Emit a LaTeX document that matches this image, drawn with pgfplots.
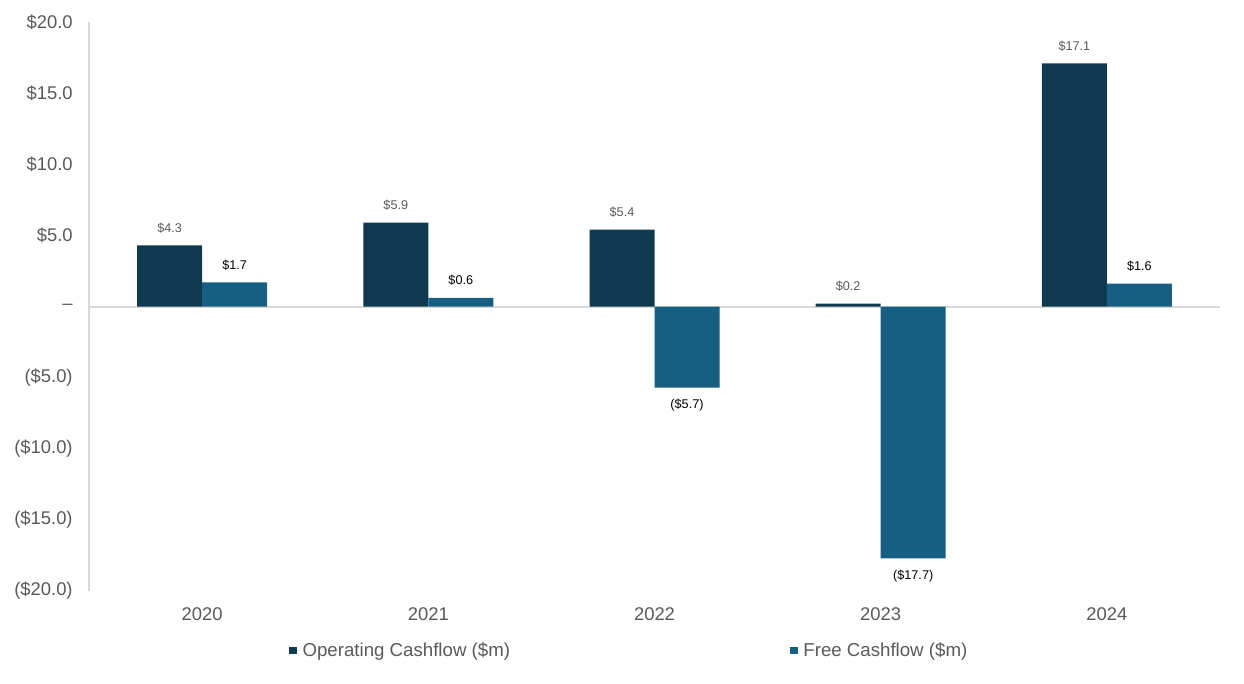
\documentclass[border=0pt]{standalone}
\usepackage{fontspec}
\setmainfont{Liberation Sans}
\usepackage{pgfplots}
\pgfplotsset{compat=1.18}

\definecolor{opcf}{HTML}{0E394F}
\definecolor{fcf}{HTML}{165E82}
\definecolor{axgray}{HTML}{D9D9D9}
\definecolor{txtgray}{HTML}{595959}

\begin{document}
\begin{tikzpicture}
\useasboundingbox (0,0) rectangle (933pt,512.25pt);
\begin{axis}[
    at={(66.75pt,69pt)}, anchor=south west,
    scale only axis,
    width=848.25pt, height=426.75pt,
    ybar, bar width=48.75pt,
    xmin=-0.5, xmax=4.5,
    ymin=-20, ymax=20,
    xtick={0,1,2,3,4},
    xticklabels={2020,2021,2022,2023,2024},
    ytick={-20,-15,-10,-5,0,5,10,15,20},
    yticklabels={(\$20.0),(\$15.0),(\$10.0),(\$5.0),--,\$5.0,\$10.0,\$15.0,\$20.0},
    extra y ticks={0},
    extra y tick labels={},
    extra y tick style={grid=major, major grid style={draw=axgray, line width=1.5pt}},
    major tick length=0pt,
    axis y line*=left,
    axis x line*=bottom,
    y axis line style={draw=axgray, line width=1.5pt},
    x axis line style={draw=none},
    ticklabel style={font=\fontsize{13.8}{16}\selectfont, text=txtgray},
    yticklabel style={xshift=-8.75pt},
    xticklabel style={yshift=-9pt},
    nodes near coords,
    point meta=explicit symbolic,
    every node near coord/.append style={font=\fontsize{9.5}{11}\selectfont,
        text height=7.5pt, text depth=1.7pt, inner ysep=8pt},
    legend columns=2,
    legend style={at={(0.1733,-0.104)}, anchor=west, draw=none, fill=none,
        font=\fontsize{14}{16}\selectfont, text=txtgray,
        /tikz/every even column/.append style={column sep=208pt}},
    legend image code/.code={\fill[#1] (0pt,-2.6pt) rectangle (6pt,2.6pt);
        \path (0pt,0pt) -- (8pt,0pt);},
]
% operating cashflow
\addplot[fill=opcf, draw=none, bar shift=-24.375pt,
    every node near coord/.append style={text=txtgray}]
    coordinates {(0,4.3) [\$4.3] (1,5.9) [\$5.9] (2,5.4) [\$5.4] (3,0.2) [\$0.2] (4,17.1) [\$17.1]};
% free cashflow, positive years
\addplot[fill=fcf, draw=none, bar shift=24.375pt,
    every node near coord/.append style={text=black}]
    coordinates {(0,1.7) [\$1.7] (1,0.6) [\$0.6] (4,1.6) [\$1.6]};
% free cashflow, negative years (labels below the bars)
\addplot[fill=fcf, draw=none, bar shift=24.375pt, forget plot,
    every node near coord/.append style={text=black, anchor=north}]
    coordinates {(2,-5.7) [(\$5.7)] (3,-17.7) [(\$17.7)]};
\legend{Operating Cashflow (\$m), Free Cashflow (\$m)}
\end{axis}
\end{tikzpicture}
\end{document}
